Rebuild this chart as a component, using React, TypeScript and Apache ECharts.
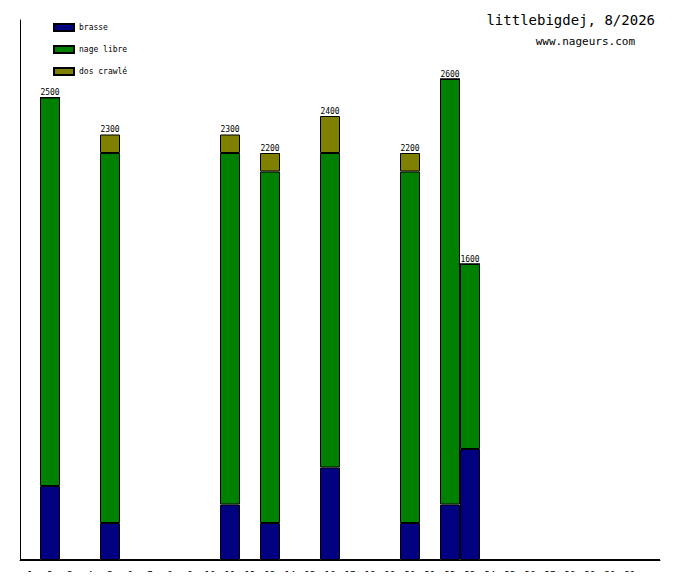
import React, { useEffect, useRef } from "react";
import * as echarts from "echarts";

const days = Array.from({ length: 32 }, (_, i) => (i < 31 ? String(i + 1) : ""));
// values per day (index 0 = day 1)
const brasseByDay: Record<number, number> = { 2: 400, 5: 200, 11: 300, 13: 200, 16: 500, 20: 200, 22: 300, 23: 600 };
const nageByDay: Record<number, number> = { 2: 2100, 5: 2000, 11: 1900, 13: 1900, 16: 1700, 20: 1900, 22: 2300, 23: 1000 };
const dosByDay: Record<number, number> = { 5: 100, 11: 100, 13: 100, 16: 200, 20: 100 };

const col = (m: Record<number, number>) => days.map((_, i) => m[i + 1] ?? 0);
const brasse = col(brasseByDay);
const nage = col(nageByDay);
const dos = col(dosByDay);
const totals = days.map((_, i) => brasse[i] + nage[i] + dos[i]);

export default function App() {
  const ref = useRef<HTMLDivElement>(null);
  useEffect(() => {
    const chart = echarts.init(ref.current!, null, { renderer: "svg" });
    const font = "DejaVu Sans Mono";
    const barStyle = (c: string) => ({ color: c, borderColor: "#000", borderWidth: 1 });
    chart.setOption({
      animation: false,
      textStyle: { fontFamily: font },
      grid: { left: 20, right: 20, top: 20, bottom: 20 },
      title: [
        { text: "littlebigdej, 8/2026", right: 20, top: 8, textStyle: { fontFamily: font, fontSize: 14, fontWeight: "normal", color: "#000" } },
        { text: "www.nageurs.com", right: 40, top: 31, textStyle: { fontFamily: font, fontSize: 11, fontWeight: "normal", color: "#000" } },
      ],
      legend: {
        orient: "vertical", left: 48, top: 18, itemWidth: 20, itemHeight: 7, itemGap: 13,
        data: ["brasse", "nage libre", "dos crawlé"],
        textStyle: { fontFamily: font, fontSize: 8, color: "#000" }, icon: "rect",
      },
      xAxis: {
        type: "category", data: days,
        axisLine: { lineStyle: { color: "#000" } }, axisTick: { show: false },
        axisLabel: { color: "#000", fontSize: 9, fontFamily: font, interval: 0, margin: 10 },
      },
      yAxis: {
        type: "value", min: 0, max: 2919,
        axisLine: { show: true, lineStyle: { color: "#000" } },
        axisLabel: { show: false }, axisTick: { show: false }, splitLine: { show: false },
      },
      series: [
        { name: "brasse", type: "bar", stack: "s", data: brasse, barWidth: 20, itemStyle: barStyle("#000080") },
        { name: "nage libre", type: "bar", stack: "s", data: nage, barWidth: 20, itemStyle: barStyle("#008000") },
        { name: "dos crawlé", type: "bar", stack: "s", data: dos, barWidth: 20, itemStyle: barStyle("#808000") },
        {
          name: "total", type: "bar", stack: "s", data: days.map(() => 0), barWidth: 20,
          itemStyle: { color: "transparent" },
          label: {
            show: true, position: "top", distance: 1, fontSize: 8, fontFamily: font, color: "#000",
            formatter: (p: any) => (totals[p.dataIndex] ? String(totals[p.dataIndex]) : ""),
          },
        },
      ],
    });
    return () => chart.dispose();
  }, []);
  return <div ref={ref} style={{ width: 680, height: 580, margin: -8, background: "#fff" }} />;
}
